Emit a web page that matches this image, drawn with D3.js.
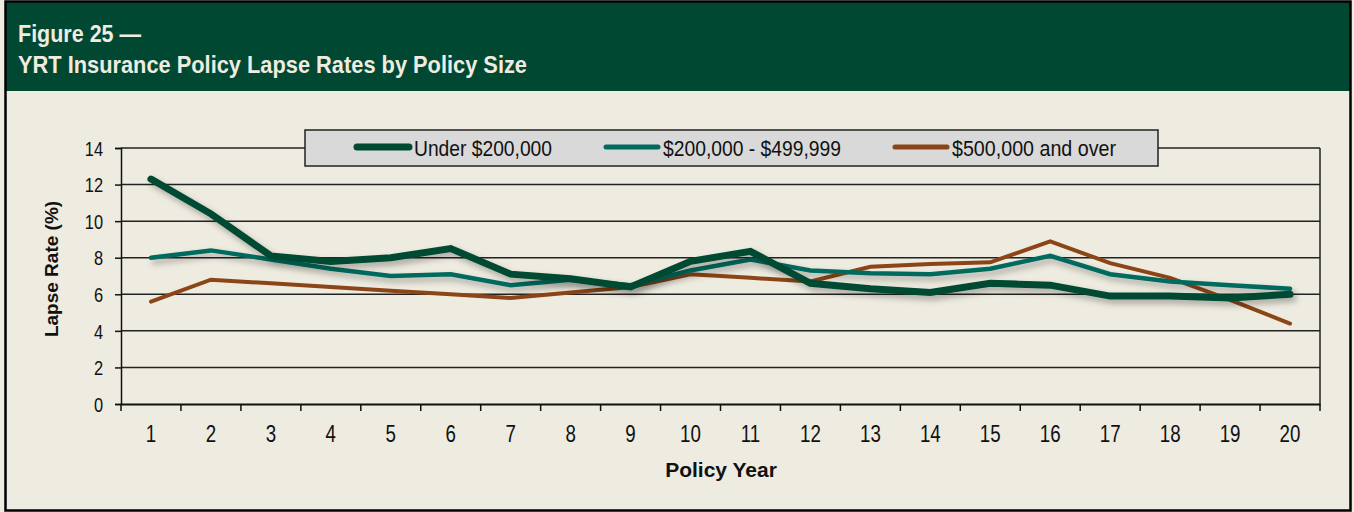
<!DOCTYPE html>
<html><head><meta charset="utf-8">
<script src="https://cdn.jsdelivr.net/npm/d3@7"></script>
<style>
body{margin:0;background:#fff;}
svg text{font-family:"Liberation Sans",Arial,sans-serif;}
</style></head>
<body>
<svg id="c" width="1354" height="512"></svg>
<script>
const years = [1,2,3,4,5,6,7,8,9,10,11,12,13,14,15,16,17,18,19,20];
const seriesNames = ["Under $200,000","$200,000 - $499,999","$500,000 and over"];
const under200k = [12.3,10.4,8.1,7.8,8.0,8.5,7.1,6.85,6.4,7.8,8.35,6.6,6.3,6.1,6.6,6.5,5.9,5.9,5.8,6.0];
const mid = [8.0,8.4,7.9,7.4,7.0,7.1,6.5,6.8,6.5,7.3,7.9,7.3,7.15,7.1,7.4,8.1,7.1,6.7,6.5,6.3];
const over500k = [5.6,6.8,6.6,6.4,6.2,6.0,5.8,6.1,6.4,7.1,6.9,6.7,7.5,7.65,7.75,8.9,7.7,6.9,5.7,4.4];
const yTicks = [0,2,4,6,8,10,12,14];

const colors = ["#004a30","#006b5e","#8b4516"];
const widths = [7,4.5,4];
const series = [under200k, mid, over500k];

function narrow(sel, k){
  sel.each(function(){
    const w = this.getComputedTextLength();
    d3.select(this).attr("textLength", w*k).attr("lengthAdjust","spacingAndGlyphs");
  });
}

const svg = d3.select("#c");
svg.append("rect").attr("x",0).attr("y",0).attr("width",1354).attr("height",512).attr("fill","#eeebe0");
svg.append("rect").attr("x",5).attr("y",2).attr("width",1346).attr("height",89).attr("fill","#014832");
svg.append("rect").attr("x",5.5).attr("y",1.5).attr("width",1345).attr("height",509).attr("fill","none").attr("stroke","#000").attr("stroke-width",2.5);

svg.append("text").attr("x",18).attr("y",42).attr("fill","#efece1").attr("font-size",24).attr("font-weight","bold")
  .attr("textLength",123).attr("lengthAdjust","spacingAndGlyphs").text("Figure 25 \u2014");
svg.append("text").attr("x",18).attr("y",73).attr("fill","#efece1").attr("font-size",24.5).attr("font-weight","bold")
  .attr("textLength",509).attr("lengthAdjust","spacingAndGlyphs").text("YRT Insurance Policy Lapse Rates by Policy Size");

const defs = svg.append("defs");
const f = defs.append("filter").attr("id","sh").attr("x","-10%").attr("y","-30%").attr("width","120%").attr("height","160%");
f.append("feDropShadow").attr("dx",3).attr("dy",4).attr("stdDeviation",3).attr("flood-color","#000").attr("flood-opacity",0.3);

const L=121, R=1320, T=148, B=404;
const x = d3.scaleBand().domain(years).range([L,R]);
const y = d3.scaleLinear().domain([0,14]).range([B,T]);

const g = svg.append("g");
g.selectAll("line.grid").data(yTicks.filter(d=>d>0)).join("line")
 .attr("x1",L).attr("x2",R).attr("y1",d=>y(d)).attr("y2",d=>y(d))
 .attr("stroke","#222").attr("stroke-width",1.5);
g.append("line").attr("x1",R).attr("x2",R).attr("y1",T).attr("y2",B).attr("stroke","#222").attr("stroke-width",1.5);

const ya = g.append("g").attr("transform",`translate(${L},0)`)
 .call(d3.axisLeft(y).tickValues(yTicks).tickSize(6).tickPadding(12));
ya.select(".domain").attr("stroke","#111").attr("stroke-width",1.5);
ya.selectAll(".tick line").attr("stroke","#111").attr("stroke-width",1.5);
ya.selectAll("text").attr("font-size",20).attr("fill","#111").attr("font-family",null).attr("dy","0.36em");
narrow(ya.selectAll("text"), 0.82);

const xa = g.append("g").attr("transform",`translate(0,${B})`)
 .call(d3.axisBottom(x).tickSize(0));
xa.select(".domain").attr("stroke","#111").attr("stroke-width",2);
xa.selectAll("text").attr("font-size",24).attr("fill","#111").attr("font-family",null).attr("dy",null).attr("y",38);
narrow(xa.selectAll("text"), 0.78);
const bounds = years.map(d=>x(d)).concat([R]);
g.selectAll("line.xt").data(bounds).join("line")
 .attr("x1",d=>d).attr("x2",d=>d).attr("y1",B).attr("y2",B+7).attr("stroke","#111").attr("stroke-width",1.5);

svg.append("text").attr("transform",`translate(58,269) rotate(-90)`).attr("text-anchor","middle")
 .attr("font-size",19).attr("font-weight","bold").attr("fill","#111").text("Lapse Rate (%)");
svg.append("text").attr("x",721).attr("y",477).attr("text-anchor","middle")
 .attr("font-size",21).attr("font-weight","bold").attr("fill","#111").text("Policy Year");

const line = d3.line().x((d,i)=>x(years[i])+x.bandwidth()/2).y(d=>y(d));
[2,1,0].forEach(k=>{
  g.append("path").datum(series[k]).attr("d",line).attr("fill","none")
   .attr("stroke",colors[k]).attr("stroke-width",widths[k]).attr("stroke-linejoin","miter").attr("stroke-linecap","round")
   .attr("filter", k<2 ? "url(#sh)" : null);
});

const lg = svg.append("g");
lg.append("rect").attr("x",305).attr("y",130).attr("width",853).attr("height",36).attr("fill","#d9d9d9").attr("stroke","#222").attr("stroke-width",1.5);
const lx = [357, 606, 895];
const lw = [138, 178, 164];
seriesNames.forEach((n,i)=>{
  lg.append("line").attr("x1",lx[i]).attr("x2",lx[i]+52).attr("y1",147).attr("y2",147)
    .attr("stroke",colors[i]).attr("stroke-width",i==0?7:5).attr("stroke-linecap","round");
  lg.append("text").attr("x",lx[i]+57).attr("y",155.5).attr("font-size",22).attr("fill","#111")
    .attr("textLength",lw[i]).attr("lengthAdjust","spacingAndGlyphs").text(n);
});
</script>
</body></html>
